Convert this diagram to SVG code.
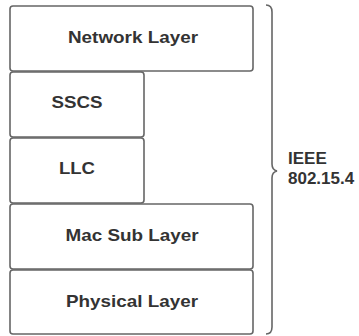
<svg xmlns="http://www.w3.org/2000/svg" width="359" height="336" viewBox="0 0 359 336">
<style>
.box{fill:#fff;stroke:#666;stroke-width:1.6}
.lbl{font-family:"Liberation Sans",Arial,sans-serif;font-weight:bold;font-size:17px;fill:#333;text-anchor:middle}
.side{font-family:"Liberation Sans",Arial,sans-serif;font-weight:bold;font-size:17px;fill:#333}
.brace{fill:none;stroke:#666;stroke-width:1.6}
</style>
<rect width="359" height="336" fill="#fff"/>
<g id="network-layer">
<rect class="box" x="10" y="6" width="243" height="65" rx="3"/>
<text class="lbl" x="133" y="43" textLength="130" lengthAdjust="spacingAndGlyphs">Network Layer</text>
</g>
<g id="sscs">
<rect class="box" x="10" y="72" width="134" height="65" rx="3"/>
<text class="lbl" x="77" y="108" textLength="51" lengthAdjust="spacingAndGlyphs">SSCS</text>
</g>
<g id="llc">
<rect class="box" x="10" y="138" width="134" height="65" rx="3"/>
<text class="lbl" x="77" y="174" textLength="36" lengthAdjust="spacingAndGlyphs">LLC</text>
</g>
<g id="mac-sub-layer">
<rect class="box" x="10" y="204" width="243" height="65" rx="3"/>
<text class="lbl" x="132" y="241" textLength="133" lengthAdjust="spacingAndGlyphs">Mac Sub Layer</text>
</g>
<g id="physical-layer">
<rect class="box" x="10" y="270" width="243" height="64" rx="3"/>
<text class="lbl" x="132" y="306.5" textLength="132" lengthAdjust="spacingAndGlyphs">Physical Layer</text>
</g>
<g id="connectors">
<path class="brace" d="M266,5 Q272,5 272,12 L272,164 Q272,170 277,171 Q272,172 272,178 L272,327 Q272,334 266,334"/>
</g>
<g id="ieee-label">
<text class="side" x="288" y="164">IEEE</text>
<text class="side" x="288" y="184.3">802.15.4</text>
</g>
</svg>
